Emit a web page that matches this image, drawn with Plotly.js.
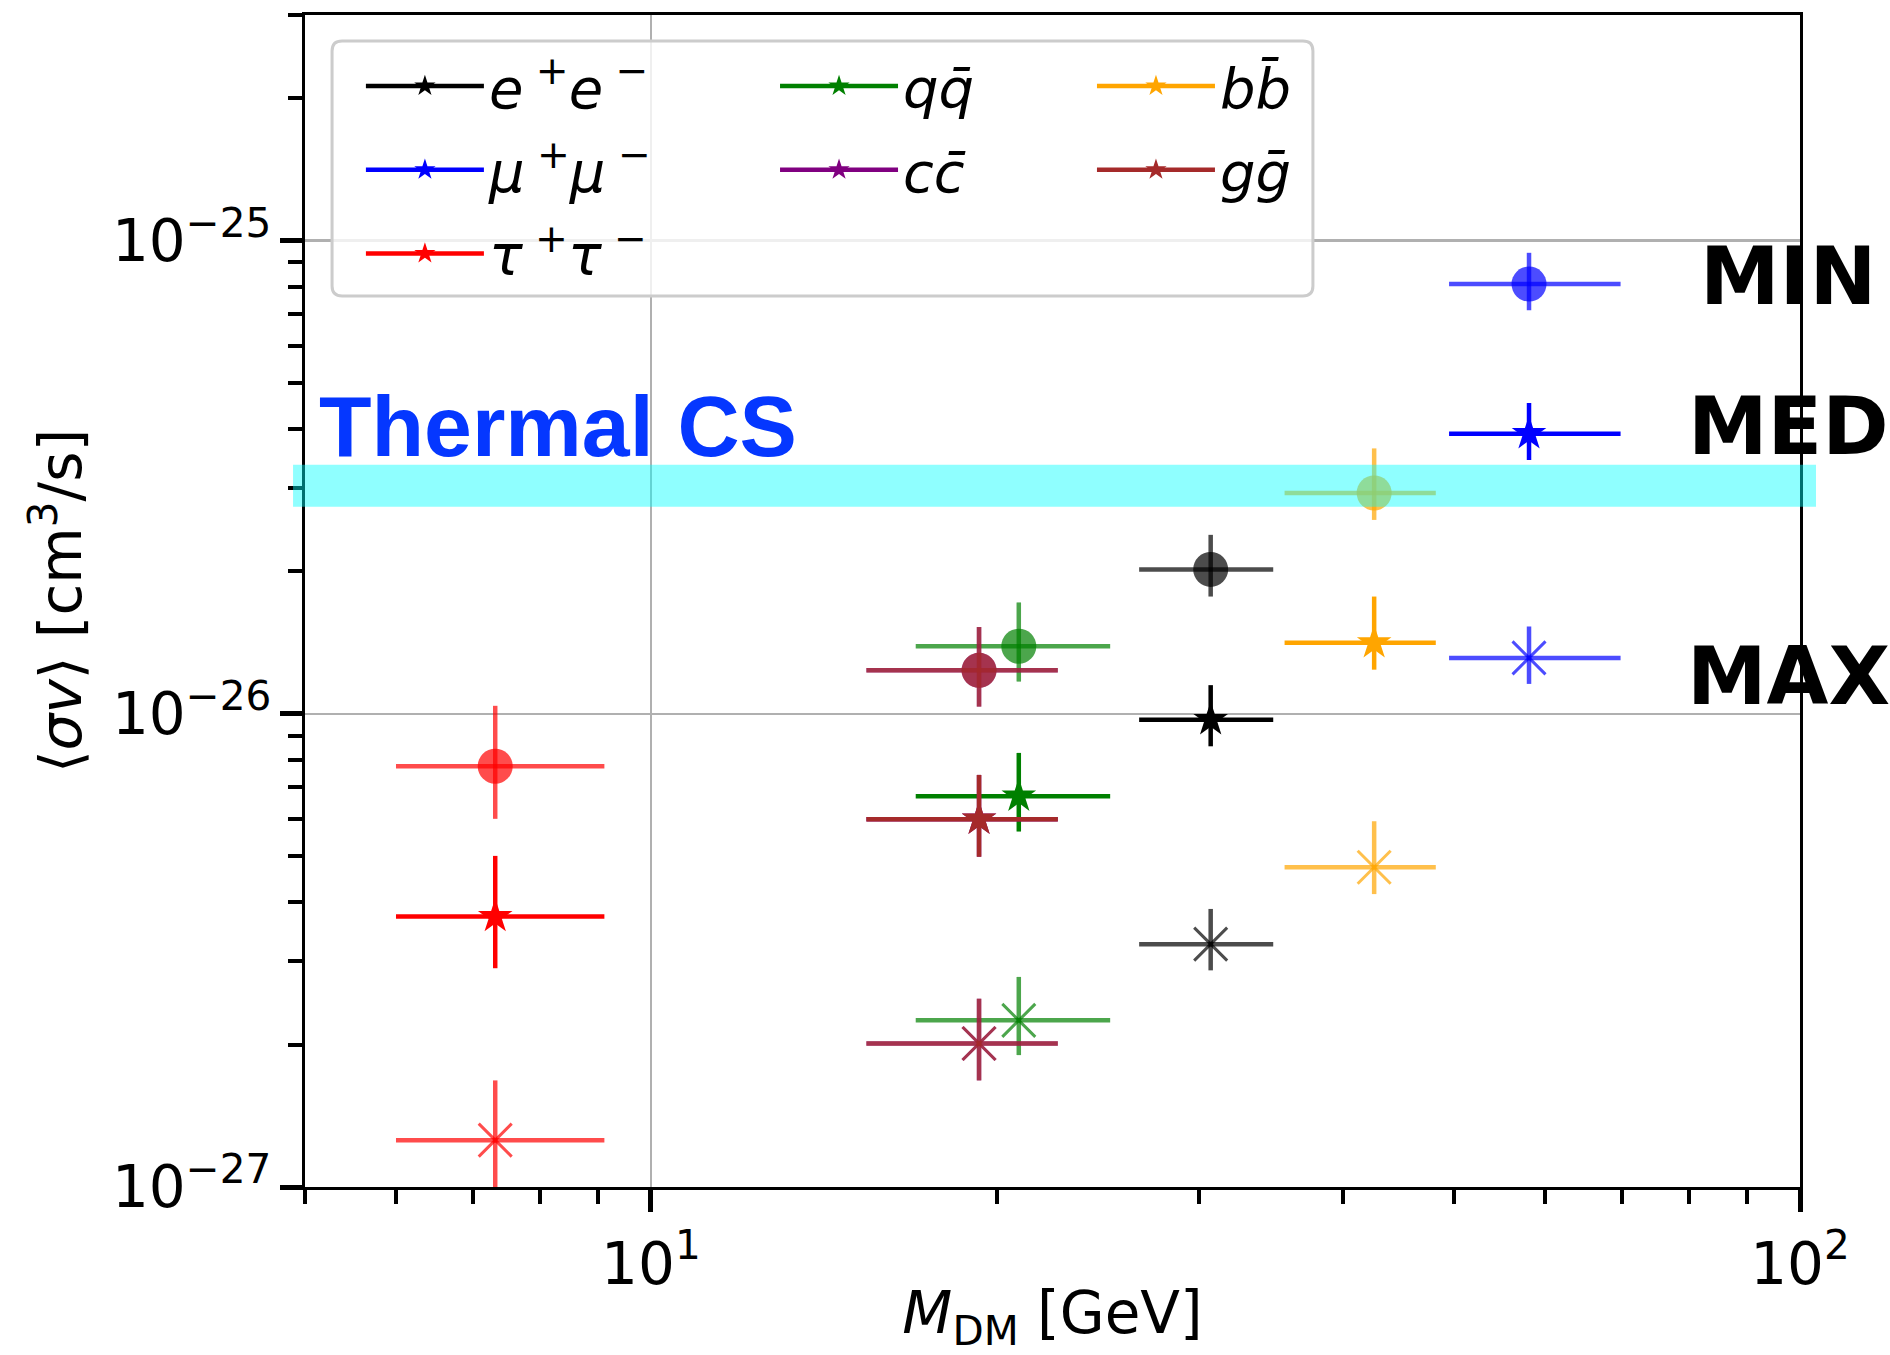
<!DOCTYPE html>
<html><head><meta charset="utf-8">
<script src="https://cdn.plot.ly/plotly-3.0.1.min.js"></script>
<style>html,body{margin:0;padding:0;background:#fff}</style>
</head><body><div id="chart" style="width:1890px;height:1355px"></div>
<script>
// ---- data ----
const channelLabels = ['<i>e</i><sup> +</sup><i>e</i><sup> −</sup>', '<i>μ</i><sup> +</sup><i>μ</i><sup> −</sup>', '<i>τ</i><sup> +</sup><i>τ</i><sup> −</sup>', '<i>qq\u0304</i>', '<i>cc\u0304</i>', '<i>bb\u0304</i>', '<i>gḡ</i>'];
const massGeV       = [30.7, 58.1, 7.32, 20.9, 19.3, 42.6, 19.3];
const massErrMinus  = [4.1, 8.6, 1.32, 3.9, 3.9, 7.0, 3.9];
const massErrPlus   = [4.1, 11.7, 1.79, 4.2, 3.3, 5.6, 3.3];
const svMin         = [2.02e-26, 8.1e-26, 7.75e-27, 1.39e-26, 1.236e-26, 2.93e-26, 1.236e-26];
const svMinErrPlus  = [0.37e-26, 1.33e-26, 2.65e-27, 0.33e-26, 0.29e-26, 0.71e-26, 0.29e-26];
const svMinErrMinus = [0.25e-26, 0.97e-26, 1.75e-27, 0.22e-26, 0.20e-26, 0.36e-26, 0.20e-26];
const svMed         = [9.72e-27, 3.91e-26, 3.73e-27, 6.70e-27, 5.99e-27, 1.413e-26, 5.99e-27];
const svMedErrPlus  = [1.78e-27, 0.63e-26, 1.28e-27, 1.57e-27, 1.44e-27, 0.357e-26, 1.44e-27];
const svMedErrMinus = [1.18e-27, 0.47e-26, 0.83e-27, 1.06e-27, 1.00e-27, 0.173e-26, 1.00e-27];
const svMax         = [3.26e-27, 1.313e-26, 1.256e-27, 2.25e-27, 2.01e-27, 4.74e-27, 2.01e-27];
const svMaxErrPlus  = [0.61e-27, 0.217e-26, 0.424e-27, 0.53e-27, 0.49e-27, 1.19e-27, 0.49e-27];
const svMaxErrMinus = [0.39e-27, 0.156e-26, 0.28e-27, 0.35e-27, 0.33e-27, 0.58e-27, 0.33e-27];
const thermalLow = 2.74e-26, thermalHigh = 3.36e-26;
const xRange = [Math.log10(5), 2];
const yRange = [-27, Math.log10(3.0e-25)];
const xTickVals = [10, 100];
const xTickText = ['10<sup>1</sup>', '10<sup>2</sup>'];
const xMinorVals = [5, 6, 7, 8, 9, 20, 30, 40, 50, 60, 70, 80, 90];
const yTickVals = [1e-27, 1e-26, 1e-25];
const yTickText = ['10<sup>−27</sup>', '10<sup>−26</sup>', '10<sup>−25</sup>'];
const yMinorVals = [2e-27,3e-27,4e-27,5e-27,6e-27,7e-27,8e-27,9e-27,2e-26,3e-26,4e-26,5e-26,6e-26,7e-26,8e-26,9e-26,2e-25,3e-25];
const levelLabels = ['MIN', 'MED', 'MAX'];

// ---- styles ----
const rgb = ['0,0,0', '0,0,255', '255,0,0', '0,128,0', '128,0,128', '255,165,0', '165,42,42'];
const legendOf = ['legend', 'legend', 'legend', 'legend2', 'legend2', 'legend3', 'legend3'];
const FONT = 'DejaVu Sans, Verdana, sans-serif';

const traces = [];
for (let i = 0; i < massGeV.length; i++) {
  const c7 = 'rgba(' + rgb[i] + ',0.7)', c1 = 'rgb(' + rgb[i] + ')';
  const ex = {type: 'data', symmetric: false, array: [massErrPlus[i]], arrayminus: [massErrMinus[i]], thickness: 4.5, width: 0};
  traces.push({x: [massGeV[i]], y: [svMin[i]], mode: 'markers', showlegend: false,
    marker: {symbol: 'circle', size: 35, color: c7, line: {width: 0}},
    error_x: Object.assign({}, ex, {color: c7}),
    error_y: {type: 'data', symmetric: false, array: [svMinErrPlus[i]], arrayminus: [svMinErrMinus[i]], thickness: 4.5, width: 0, color: c7}});
  traces.push({x: [massGeV[i]], y: [svMed[i]], mode: 'lines+markers', name: channelLabels[i], legend: legendOf[i],
    legendgroup: 'g' + i,
    line: {color: c1, width: 4.5},
    marker: {symbol: 'star', size: 26, color: c1, line: {width: 0}},
    error_x: Object.assign({}, ex, {color: c1}),
    error_y: {type: 'data', symmetric: false, array: [svMedErrPlus[i]], arrayminus: [svMedErrMinus[i]], thickness: 4.5, width: 0, color: c1}});
  traces.push({x: [massGeV[i]], y: [svMax[i]], mode: 'markers', showlegend: false,
    marker: {symbol: 'x-thin-open', size: 33, color: c7, line: {width: 3, color: c7}},
    error_x: Object.assign({}, ex, {color: c7}),
    error_y: {type: 'data', symmetric: false, array: [svMaxErrPlus[i]], arrayminus: [svMaxErrMinus[i]], thickness: 4.5, width: 0, color: c7}});
}

const yPaper = v => (Math.log10(v) - yRange[0]) / (yRange[1] - yRange[0]);

const legendCommon = {bgcolor: 'rgba(0,0,0,0)', borderwidth: 0, font: {family: FONT, size: 56, color: 'black'},
  xanchor: 'left', yanchor: 'top', itemwidth: 118, traceorder: 'grouped', tracegroupgap: 8};

const axisCommon = {showline: true, linecolor: 'black', linewidth: 3, mirror: true,
  ticks: 'outside', ticklen: 22, tickwidth: 5, tickcolor: 'black',
  showgrid: true, gridcolor: '#b0b0b0', gridwidth: 2.5, zeroline: false,
  tickfont: {family: FONT, size: 58, color: 'black'}, tickmode: 'array'};

const layout = {
  width: 1890, height: 1355,
  margin: {l: 305, r: 90, t: 15, b: 168},
  paper_bgcolor: 'white', plot_bgcolor: 'white',
  font: {family: FONT, color: 'black'},
  xaxis: Object.assign({}, axisCommon, {type: 'log', range: xRange,
    tickvals: xTickVals, ticktext: xTickText, ticklabelstandoff: 2,
    minor: {tickmode: 'array', tickvals: xMinorVals, ticks: 'outside', ticklen: 14, tickwidth: 4, tickcolor: 'black', showgrid: false},
    title: {text: '<i>M</i><sub>DM</sub> [GeV]', font: {family: FONT, size: 58, color: 'black'}, standoff: 10}}),
  yaxis: Object.assign({}, axisCommon, {type: 'log', range: yRange,
    tickvals: yTickVals, ticktext: yTickText, ticklabelstandoff: -3,
    minor: {tickmode: 'array', tickvals: yMinorVals, ticks: 'outside', ticklen: 14, tickwidth: 4, tickcolor: 'black', showgrid: false},
    title: {text: '⟨<i>σv</i>⟩ [cm<sup>3</sup>/s]', font: {family: FONT, size: 58, color: 'black'}, standoff: 12}}),
  legend: Object.assign({}, legendCommon, {x: 0.0374, y: 0.9761}),
  legend2: Object.assign({}, legendCommon, {x: 0.3144, y: 0.9761}),
  legend3: Object.assign({}, legendCommon, {x: 0.5264, y: 0.9761}),
  shapes: [
    {type: 'rect', layer: 'above', xref: 'paper', yref: 'paper', x0: -0.008, x1: 1.0107,
     y0: yPaper(thermalLow), y1: yPaper(thermalHigh),
     fillcolor: 'rgba(0,255,255,0.44)', line: {width: 0}},
    {type: 'path', layer: 'above', xref: 'paper', yref: 'paper',
     path: 'M 0.0248,0.9778 L 0.6675,0.9778 Q 0.6742,0.9778 0.6742,0.9693 L 0.6742,0.7687 Q 0.6742,0.7602 0.6675,0.7602 L 0.0248,0.7602 Q 0.0181,0.7602 0.0181,0.7687 L 0.0181,0.9693 Q 0.0181,0.9778 0.0248,0.9778 Z',
     fillcolor: 'rgba(255,255,255,0.8)', line: {color: '#cccccc', width: 3}}
  ],
  annotations: [
    {text: '<b>Thermal CS</b>', xref: 'paper', yref: 'y', x: 0.008, y: -25.387, xanchor: 'left', yanchor: 'middle', yshift: -2,
     showarrow: false, font: {family: 'Liberation Sans, Arial, sans-serif', size: 86, color: '#0537ff'}},
    {text: '<b>' + levelLabels[0] + '</b>', xref: 'paper', yref: 'y', x: 0.992, y: -25.072, xanchor: 'center', yanchor: 'middle', yshift: -2,
     showarrow: false, font: {family: FONT, size: 80, color: 'black'}},
    {text: '<b>' + levelLabels[1] + '</b>', xref: 'paper', yref: 'y', x: 0.992, y: -25.389, xanchor: 'center', yanchor: 'middle', yshift: -2,
     showarrow: false, font: {family: FONT, size: 80, color: 'black'}},
    {text: '<b>' + levelLabels[2] + '</b>', xref: 'paper', yref: 'y', x: 0.992, y: -25.9175, xanchor: 'center', yanchor: 'middle', yshift: -2,
     showarrow: false, font: {family: FONT, size: 80, color: 'black'}}
  ]
};

Plotly.newPlot('chart', traces, layout, {displayModeBar: false, staticPlot: true});
</script></body></html>
